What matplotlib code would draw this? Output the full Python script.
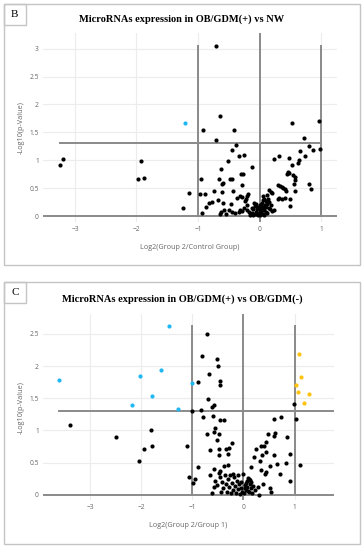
import matplotlib
matplotlib.use("Agg")
import matplotlib.pyplot as plt
from matplotlib.patches import Rectangle

# ---------------- data: panel B ----------------
b_black_x = [-3.24, -3.20, -1.93, -1.98, -1.87, -1.24, -1.15,
             -0.71, -0.65, -0.92, -0.42, 0.53, 0.97,
             -0.71, -0.38, -0.45, -0.33, -0.26, -0.52, -0.12, -0.63, -0.30, -0.27,
             -0.95, -0.66, -0.48, -0.44, -0.59, -0.61, -0.29, -0.97, -0.89, -0.74,
             -0.61, -0.43, -0.37, -0.31, -0.29, -0.20, -0.18, -0.22, -0.23, -0.78,
             -0.82, -0.68, -0.60, -0.87, -0.93, -0.47, -0.62, -0.64, -0.58, -0.50,
             -0.54, -0.44, -0.40, -0.32, -0.34, -0.26, -0.28, -0.21, -0.21,
             -0.15, -0.12, -0.10, -0.08, -0.07, -0.06, -0.05, -0.04, -0.03, -0.02,
             -0.01, 0.00, 0.00, 0.01, 0.02, 0.03, 0.04, 0.05, 0.06, 0.07, 0.08,
             0.09, 0.10, -0.09, -0.13, -0.17, -0.11, 0.03, -0.04, 0.01,
             0.73, 0.81, 0.87, 0.98, 0.66, 0.74, 0.32, 0.23, 0.48, 0.64, 0.62, 0.53,
             0.47, 0.44, 0.48, 0.55, 0.58, 0.57, 0.56, 0.57, 0.80, 0.83, 0.30, 0.34,
             0.36, 0.38, 0.41, 0.43, 0.15, 0.18, 0.20, 0.32, 0.30, 0.36, 0.42, 0.49,
             0.50, 0.23,
             0.12, 0.14, 0.10, 0.16, 0.12, 0.08, 0.05, 0.18, 0.15, 0.11, 0.20, 0.13,
             0.17, 0.06]
b_black_y = [0.92, 1.02, 0.98, 0.66, 0.68, 0.14, 0.42,
             3.04, 1.79, 1.55, 1.55, 1.67, 1.71,
             1.36, 1.27, 1.18, 1.08, 1.09, 0.98, 0.88, 0.84, 0.76, 0.75,
             0.67, 0.67, 0.66, 0.66, 0.60, 0.57, 0.55, 0.39, 0.39, 0.45,
             0.43, 0.44, 0.33, 0.36, 0.34, 0.36, 0.39, 0.30, 0.27, 0.26,
             0.23, 0.29, 0.24, 0.16, 0.05, 0.21, 0.07, 0.03, 0.11, 0.10,
             0.03, 0.08, 0.05, 0.11, 0.07, 0.15, 0.09, 0.20, 0.11,
             0.02, 0.05, 0.12, 0.03, 0.18, 0.08, 0.22, 0.13, 0.01, 0.16,
             0.06, 0.10, 0.20, 0.02, 0.14, 0.08, 0.24, 0.04, 0.17, 0.11, 0.01,
             0.20, 0.07, 0.24, 0.15, 0.08, 0.01, 0.19, 0.04, 0.12,
             1.39, 1.25, 1.18, 1.21, 1.17, 1.08, 1.07, 1.02, 1.04, 1.01, 0.95, 0.92,
             0.79, 0.76, 0.77, 0.73, 0.70, 0.64, 0.57, 0.45, 0.58, 0.49, 0.56, 0.54,
             0.52, 0.51, 0.48, 0.45, 0.46, 0.43, 0.41, 0.33, 0.30, 0.31, 0.32, 0.30,
             0.18, 0.11,
             0.37, 0.30, 0.27, 0.25, 0.22, 0.31, 0.28, 0.20, 0.15, 0.17, 0.09, 0.05,
             0.12, 0.35]
b_blue_x = [-1.21]
b_blue_y = [1.67]
b_hline_x = [-3.24, 1.0]
b_vline_top = 3.04

# ---------------- data: panel C ----------------
c_black_x = [-3.40, -2.50, -1.81, -1.78, -1.95, -2.04,
             -0.71, -0.81, -0.51, -0.49, -0.67, -0.88, -0.45, -0.45, -0.69, -0.57,
             -0.61, -0.84, -1.01, 0.99,
             -0.80, -0.60, -0.45, -0.38, -0.72, -0.58, -0.55, -0.47, -0.51, -1.10,
             -0.65, -0.48, -0.47, -0.31, -0.28, -0.22, -0.34, -0.38, -0.31, -0.88,
             -1.06, -0.95, -0.99, -0.58, -0.65, -0.47, -0.45,
             -0.55, -0.52, -0.46, -0.42, -0.40, -0.37, -0.35, -0.33, -0.30, -0.28,
             -0.25, -0.23, -0.21, -0.18, -0.16, -0.14, -0.12, -0.10, -0.08, -0.06,
             -0.04, -0.02, -0.20, -0.62, -0.58, -0.44, -0.26, -0.11, -0.05,
             0.59, 0.73, 1.03, 0.48, 0.62, 0.60, 0.85, 0.45, 0.41, 0.35, 0.24, 0.45,
             0.36, 0.60, 0.91, 0.21, 0.32, 0.84, 0.65, 0.52, 1.11, 0.14, 0.34, 0.45,
             0.43, 0.71, 0.00, 0.09, 0.13, 0.06, 0.15, 0.38, 0.28, 0.23, 0.51, 0.54,
             0.91, 0.31,
             0.02, 0.04, 0.07, 0.10, 0.12, 0.01, 0.05, 0.08, 0.14, 0.17, 0.11, 0.19,
             0.03]
c_black_y = [1.09, 0.89, 1.01, 0.76, 0.71, 0.52,
             2.50, 2.16, 2.11, 2.00, 1.87, 1.76, 1.77, 1.71, 1.49, 1.39,
             1.37, 1.32, 1.30, 1.41,
             1.21, 1.23, 1.16, 1.16, 0.95, 0.98, 1.03, 0.95, 0.85, 0.76,
             0.70, 0.71, 0.62, 0.64, 0.72, 0.80, 0.71, 0.45, 0.46, 0.43,
             0.28, 0.24, 0.18, 0.40, 0.31, 0.34, 0.37,
             0.22, 0.15, 0.27, 0.20, 0.10, 0.30, 0.17, 0.05, 0.24, 0.12,
             0.02, 0.19, 0.08, 0.28, 0.14, 0.03, 0.22, 0.09, 0.16, 0.01,
             0.11, 0.05, 0.32, 0.03, 0.12, 0.05, 0.31, 0.30, 0.20,
             1.17, 1.21, 1.17, 0.95, 0.96, 0.92, 0.89, 0.82, 0.75, 0.75, 0.71, 0.67,
             0.61, 0.61, 0.63, 0.58, 0.52, 0.49, 0.48, 0.44, 0.46, 0.43, 0.38, 0.35,
             0.33, 0.32, 0.33, 0.26, 0.23, 0.22, 0.20, 0.17, 0.12, 0.08, 0.10, 0.05,
             0.21, 0.00,
             0.15, 0.08, 0.12, 0.04, 0.17, 0.02, 0.19, 0.06, 0.10, 0.03, 0.24, 0.14,
             0.11]
c_blue_x = [-3.60, -2.03, -1.61, -1.46, -1.79, -2.18, -1.29, -1.01]
c_blue_y = [1.79, 1.84, 1.94, 2.63, 1.53, 1.39, 1.33, 1.73]
c_orange_x = [1.08, 1.12, 1.02, 1.06, 1.18, 1.28]
c_orange_y = [2.19, 1.83, 1.71, 1.59, 1.42, 1.57]
c_hline_x = [-3.6, 1.77]
c_vline_top = 2.63

threshold_y = 1.3
fc_lines = [-1, 1]

b_xticks = [-3, -2, -1, 0, 1]
b_yticks = [0, 0.5, 1, 1.5, 2, 2.5, 3]
c_xticks = [-3, -2, -1, 0, 1]
c_yticks = [0, 0.5, 1, 1.5, 2, 2.5]

W, H = 364, 550
fig = plt.figure(figsize=(W / 100, H / 100), dpi=100)
fig.patch.set_facecolor("white")

def fx(px):
    return px / W

def fy(py):
    return 1 - py / H

def box(x0, y0, x1, y1):
    fig.add_artist(Rectangle((fx(x0), fy(y1)), fx(x1) - fx(x0), fy(y0) - fy(y1),
                             transform=fig.transFigure, fill=False,
                             edgecolor="#c4c4c4", linewidth=1.0))

LINE = "#8a8a8a"
GRID = "#ececec"
TICK_C = "#666666"


def panel(rect, xlim, ylim, xticks, yticks, blacks, colored, hline_x, vtop, xlabel):
    ax = fig.add_axes(rect)
    ax.set_xlim(*xlim)
    ax.set_ylim(*ylim)
    for s in ax.spines.values():
        s.set_visible(False)
    ax.set_xticks(xticks)
    ax.set_yticks(yticks)
    ax.set_xticklabels([("\u2212%d" % -t if t < 0 else "%g" % t) for t in xticks])
    ax.set_yticklabels(["%g" % t for t in yticks])
    ax.tick_params(length=0, labelsize=4.8, colors=TICK_C, pad=3)
    for lab in ax.get_xticklabels() + ax.get_yticklabels():
        lab.set_fontfamily("Open Sans")
    for t in xticks:
        if t != 0:
            ax.axvline(t, color=GRID, lw=0.8, zorder=0)
    for t in yticks:
        if t != 0:
            ax.axhline(t, color=GRID, lw=0.8, zorder=0)
    ax.axhline(0, color=LINE, lw=1.4, zorder=1)
    ax.axvline(0, color=LINE, lw=1.4, zorder=1)
    for v in fc_lines:
        ax.plot([v, v], [0, vtop], color=LINE, lw=1.4, zorder=1)
    ax.plot(hline_x, [threshold_y, threshold_y], color=LINE, lw=1.4, zorder=1)
    ax.scatter(blacks[0], blacks[1], s=9, color="black", zorder=3, linewidths=0)
    for (xs, ys, c) in colored:
        ax.scatter(xs, ys, s=9, color=c, zorder=3, linewidths=0)
    ax.set_xlabel(xlabel, fontsize=5.2, color=TICK_C, fontfamily="Open Sans", labelpad=8)
    ax.set_ylabel("-Log10(p-Value)", fontsize=5.2, color=TICK_C, fontfamily="Open Sans", labelpad=3)
    return ax

# Panel B
box(4, 4, 360, 265)
box(4, 4, 25.7, 24.7)
fig.text(fx(14.8), fy(14.3), "B", ha="center", va="center", fontsize=8, family="Liberation Serif")
fig.text(fx(182), fy(19), "MicroRNAs expression in OB/GDM(+) vs NW", ha="center", va="center",
         fontsize=7.5, fontweight="bold", family="Liberation Serif")
panel([fx(43), fy(221.6), fx(337) - fx(43), fy(33) - fy(221.6)],
      (-3.52, 1.26), (-0.1, 3.28), b_xticks, b_yticks,
      (b_black_x, b_black_y), [(b_blue_x, b_blue_y, "#1fb8f2")], b_hline_x, b_vline_top,
      "Log2(Group 2/Control Group)")

# Panel C
box(4, 282, 360, 544)
box(4, 282, 25.7, 303)
fig.text(fx(14.8), fy(292.5), "C", ha="center", va="center", fontsize=8, family="Liberation Serif")
fig.text(fx(182), fy(299.3), "MicroRNAs expression in OB/GDM(+) vs OB/GDM(-)", ha="center", va="center",
         fontsize=7.5, fontweight="bold", family="Liberation Serif")
panel([fx(43), fy(500.2), fx(334) - fx(43), fy(314) - fy(500.2)],
      (-3.92, 1.77), (-0.085, 2.81), c_xticks, c_yticks,
      (c_black_x, c_black_y), [(c_blue_x, c_blue_y, "#1fb8f2"), (c_orange_x, c_orange_y, "#ffc20e")],
      c_hline_x, c_vline_top, "Log2(Group 2/Group 1)")

fig.savefig("out.png", dpi=100, facecolor="white")
